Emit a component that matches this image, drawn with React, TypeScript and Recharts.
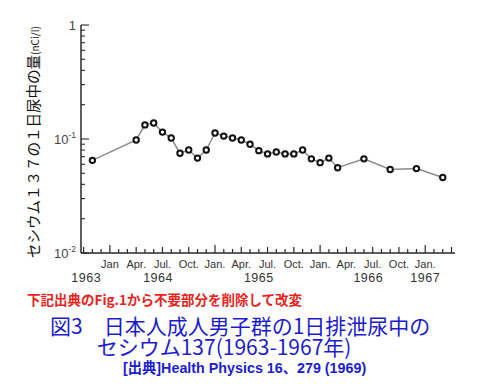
import React from 'react';
import { LineChart, Line, XAxis, YAxis } from 'recharts';

// months counted from Jan 1963 (= 0)
const months = [10, 15, 16, 17, 18, 19, 20, 21, 22, 23, 24, 25, 26, 27, 28, 29, 30, 31, 32, 33, 34, 35, 36, 37, 38, 41, 44, 47, 50];
// Cs-137 in daily urine (nCi/l)
const cesium = [0.065, 0.098, 0.133, 0.138, 0.115, 0.102, 0.075, 0.080, 0.068, 0.080, 0.113, 0.106, 0.102, 0.098, 0.090, 0.079, 0.074, 0.077, 0.074, 0.074, 0.080, 0.067, 0.062, 0.068, 0.056, 0.067, 0.054, 0.055, 0.046];

const monthTicks = [9, 10, 11, 12, 13, 14, 15, 16, 17, 18, 19, 20, 21, 22, 23, 24, 25, 26, 27, 28, 29, 30, 31, 32, 33, 34, 35, 36, 37, 38, 39, 40, 41, 42, 43, 44, 45, 46, 47, 48, 49, 50, 51];
const quarterMonths = [12, 15, 18, 21, 24, 27, 30, 33, 36, 39, 42, 45, 48];
const quarterLabels = ['Jan', 'Apr.', 'Jul.', 'Oct.', 'Jan.', 'Apr.', 'Jul.', 'Oct.', 'Jan.', 'Apr.', 'Jul.', 'Oct.', 'Jan.'];
const yearTicks = [9.3, 17.5, 29, 41.5, 48];
const yearLabels = ['1963', '1964', '1965', '1966', '1967'];

const yTicks = [0.01, 0.02, 0.03, 0.04, 0.05, 0.06, 0.07, 0.08, 0.09, 0.1, 0.2, 0.3, 0.4, 0.5, 0.6, 0.7, 0.8, 0.9, 1];
const yMajor = [0.01, 0.1, 1];
const yMajorLabels = [['10', '-2'], ['10', '-1'], ['1', '']];

const data = months.map((m, i) => ({ m, v: cesium[i] }));

const AXIS = '#2a2a2a';

function MonthTick(props: any) {
  const { x, y, payload } = props;
  const m = payload.value;
  const qi = quarterMonths.indexOf(m);
  const len = m % 12 === 0 ? 8 : m % 3 === 0 ? 6 : 4;
  return (
    <g>
      <line x1={x} y1={y} x2={x} y2={y - len} stroke={AXIS} strokeWidth={1.2} />
      {qi >= 0 && (
        <text x={x} y={y + 15} textAnchor="middle" fontSize={11} fill="#333" fontFamily="'Liberation Sans', Arial, sans-serif">
          {quarterLabels[qi]}
        </text>
      )}
    </g>
  );
}

function YearTick(props: any) {
  const { x, y, payload } = props;
  const i = yearTicks.indexOf(payload.value);
  return (
    <text x={x} y={y + 15} textAnchor="middle" fontSize={12.5} fill="#333" fontFamily="'Liberation Sans', Arial, sans-serif" letterSpacing={0.5}>
      {yearLabels[i]}
    </text>
  );
}

function LogTick(props: any) {
  const { x, y, payload } = props;
  const v = payload.value;
  const mi = yMajor.indexOf(v);
  const len = mi >= 0 ? 8 : 4;
  return (
    <g>
      <line x1={x} y1={y} x2={x + len} y2={y} stroke={AXIS} strokeWidth={1.1} />
      {mi >= 0 && (
        <text x={x - 5} y={y + 5} textAnchor="end" fontSize={13} fill="#444" fontFamily="'Liberation Sans', Arial, sans-serif">
          {yMajorLabels[mi][0]}
          {yMajorLabels[mi][1] && (
            <tspan fontSize={8.5} dy={-6}>{yMajorLabels[mi][1]}</tspan>
          )}
        </text>
      )}
    </g>
  );
}

function Dot(props: any) {
  const { cx, cy } = props;
  return <circle cx={cx} cy={cy} r={2.7} fill="#fff" stroke="#111" strokeWidth={2} />;
}

const jp = "'Noto Sans CJK JP', sans-serif";

export default function App() {
  return (
    <div style={{ position: 'absolute', left: 0, top: 0, width: 480, height: 384, background: '#fff', overflow: 'hidden' }}>
      <LineChart width={480} height={290} data={data} margin={{ top: 25, right: 25, left: 0, bottom: 0 }}>
        <XAxis
          dataKey="m"
          type="number"
          domain={[8.7, 51.4]}
          allowDataOverflow
          ticks={monthTicks}
          interval={0}
          tickSize={0}
          tickMargin={0}
          tick={<MonthTick />}
          tickLine={false}
          axisLine={{ stroke: AXIS, strokeWidth: 1.5 }}
          height={14}
        />
        <XAxis
          xAxisId="year"
          dataKey="m"
          type="number"
          domain={[8.7, 51.4]}
          allowDataOverflow
          ticks={yearTicks}
          interval={0}
          tickSize={0}
          tickMargin={0}
          tick={<YearTick />}
          tickLine={false}
          axisLine={false}
          height={23}
        />
        <YAxis
          type="number"
          scale="log"
          domain={[0.01, 1]}
          allowDataOverflow
          ticks={yTicks}
          interval={0}
          tickSize={0}
          tickMargin={0}
          tick={<LogTick />}
          tickLine={false}
          axisLine={{ stroke: AXIS, strokeWidth: 1.5 }}
          width={81}
        />
        <Line
          type="linear"
          dataKey="v"
          stroke="#8c8c8c"
          strokeWidth={1.5}
          dot={<Dot />}
          isAnimationActive={false}
        />
      </LineChart>

      <div
        style={{
          position: 'absolute', left: 33, top: 142, transform: 'translate(-50%, -50%) rotate(-90deg)',
          whiteSpace: 'nowrap', fontFamily: jp, fontSize: 14.5, color: '#111', lineHeight: 1,
        }}
      >
        セシウム１３７の１日尿中の量<span style={{ fontSize: 10 }}>(nCi/l)</span>
      </div>

      <div style={{ position: 'absolute', left: 27, top: 292, fontFamily: jp, fontSize: 13.5, fontWeight: 700, color: '#e8231c', lineHeight: '14px', whiteSpace: 'nowrap' }}>
        下記出典のFig.1から不要部分を削除して改変
      </div>
      <div style={{ position: 'absolute', left: 50, top: 314.5, fontFamily: jp, fontSize: 21, color: '#1c1ccf', lineHeight: '21px', whiteSpace: 'pre', textIndent: 0 }}>
        {'図3　日本人成人男子群の1日排泄尿中の\n　　 セシウム137(1963-1967年)\n'}
        <span style={{ display: 'inline-block', width: 73 }} />
        <span style={{ position: 'relative', top: -3, fontFamily: "'Liberation Sans', 'Noto Sans CJK JP', sans-serif", fontSize: 14.3, fontWeight: 700 }}>
          [出典]Health Physics 16、279 (1969)
        </span>
      </div>
    </div>
  );
}
